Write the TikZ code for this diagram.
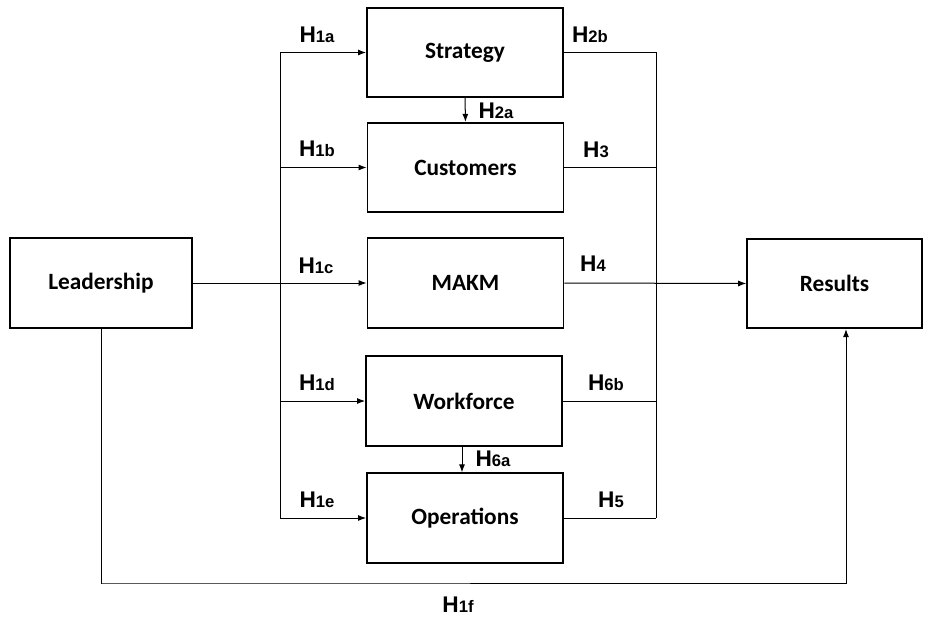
\documentclass[tikz,border=0pt]{standalone}
\usepackage{fontspec}
\setmainfont{Carlito}
\newfontfamily\labfont{Liberation Sans}
\usetikzlibrary{arrows.meta}
\newcommand{\hlab}[1]{H{\fontsize{12.5}{12.5}\selectfont #1}}
\begin{document}
\begin{tikzpicture}[x=0.75pt,y=-0.75pt,
  box/.style={draw,line width=1.4pt,minimum width=147pt,minimum height=67pt,inner sep=0pt,font=\fontsize{17.5}{17.5}\selectfont\bfseries},
  conn/.style={line width=0.75pt},
  arr/.style={conn,-{Latex[length=6pt,width=4.5pt]}},
  lab/.style={font=\labfont\fontsize{17}{17}\selectfont\bfseries,inner sep=0pt}]
\useasboundingbox (0,0) rectangle (932,617);
% boxes
\node[box] (s) at (465,52.5) {Strategy};
\node[box] (c) at (465.5,167.5) {Customers};
\node[box] (m) at (465.5,283) {MAKM};
\node[box] (w) at (464,401) {Workforce};
\node[box] (o) at (465,518) {Operations};
\node[box,minimum width=136.5pt] (l) at (101,283) {Leadership};
\node[box,minimum width=131pt] (r) at (834.5,283.5) {Results};
% bus coordinates
\coordinate (lbtop) at (280,52.5);
\coordinate (lbbot) at (280,518);
\coordinate (rbtop) at (656,52.5);
\coordinate (rbbot) at (656,518);
\coordinate (bot) at (102,583);
\coordinate (rin) at (846,0);
% left bus
\draw[conn] (lbtop) -- (lbbot);
\draw[arr] (lbtop) -- (s.west);
\draw[arr] (lbtop |- c.west) -- (c.west);
\draw[arr] (l.east) -- (m.west);
\draw[arr] (lbtop |- w.west) -- (w.west);
\draw[arr] (lbbot) -- (o.west);
% right bus
\draw[conn] (rbtop) -- (rbbot);
\draw[conn] (s.east) -- (rbtop);
\draw[conn] (c.east) -- (rbtop |- c.east);
\draw[arr] (m.east) -- (r.west);
\draw[conn] (w.east) -- (rbtop |- w.east);
\draw[conn] (o.east) -- (rbbot);
% vertical
\draw[arr] (s.south) -- (c.north);
\draw[arr] ([xshift=-1.5pt]w.south) -- ([xshift=-1.5pt]w.south |- o.north);
% H1f loop
\draw[arr] (l.south) |- (bot) -| (rin |- r.south);
% labels
\node[lab] at (317,35) {\hlab{1a}};
\node[lab] at (317,149) {\hlab{1b}};
\node[lab] at (316,266) {\hlab{1c}};
\node[lab] at (317,383) {\hlab{1d}};
\node[lab] at (317,500) {\hlab{1e}};
\node[lab] at (590,35) {\hlab{2b}};
\node[lab] at (596,150) {\hlab{3}};
\node[lab] at (593,264) {\hlab{4}};
\node[lab] at (606,383) {\hlab{6b}};
\node[lab] at (611,500) {\hlab{5}};
\node[lab] at (496,111) {\hlab{2a}};
\node[lab] at (493,459) {\hlab{6a}};
\node[lab] at (458,605) {\hlab{1f}};
\end{tikzpicture}
\end{document}
